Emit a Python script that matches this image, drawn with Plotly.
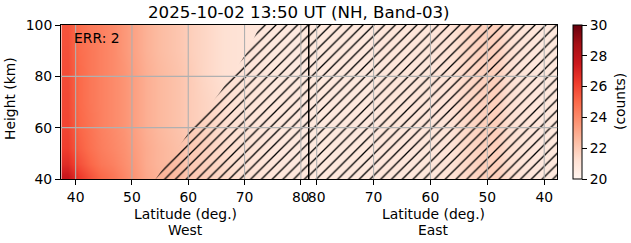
import plotly.graph_objects as go

# ---------------- data ----------------
heights = [41, 46, 52, 60, 70, 80, 90, 99]  # km (row centres)

west_lat = [38.5, 40.5, 42.5, 44.5, 46.5, 48.5, 50.5, 52.5, 54.5, 56.5, 58.5,
            60.5, 62.5, 64.5, 66.5, 68.5, 70.5, 72.5, 74.5, 76.5, 78.5, 80.5]
# one list per latitude column, bottom -> top
west_cols = [
    [27.6, 26.8, 26.2, 26.0, 25.9, 25.8, 25.7, 25.6],
    [26.3, 25.7, 25.3, 25.1, 25.0, 25.0, 24.9, 24.9],
    [25.6, 25.1, 24.8, 24.7, 24.6, 24.6, 24.6, 24.5],
    [25.0, 24.6, 24.4, 24.3, 24.3, 24.3, 24.3, 24.3],
    [24.6, 24.3, 24.1, 24.0, 24.0, 24.0, 24.0, 24.0],
    [24.1, 23.9, 23.8, 23.7, 23.7, 23.7, 23.6, 23.6],
    [23.6, 23.5, 23.4, 23.3, 23.3, 23.3, 23.2, 23.2],
    [23.1, 23.0, 23.0, 22.9, 22.9, 22.9, 22.8, 22.8],
    [22.8, 22.7, 22.7, 22.6, 22.6, 22.6, 22.5, 22.5],
    [22.6, 22.5, 22.5, 22.4, 22.4, 22.4, 22.3, 22.3],
    [22.4, 22.3, 22.3, 22.2, 22.2, 22.2, 22.1, 22.1],
    [22.1, 22.0, 22.0, 21.9, 21.9, 21.9, 21.8, 21.8],
    [21.9, 21.8, 21.8, 21.7, 21.7, 21.6, 21.6, 21.6],
    [21.7, 21.6, 21.6, 21.5, 21.5, 21.4, 21.4, 21.4],
    [21.5, 21.4, 21.4, 21.3, 21.3, 21.2, 21.2, 21.2],
    [21.3, 21.2, 21.2, 21.2, 21.1, 21.1, 21.1, 21.1],
    [21.2, 21.1, 21.1, 21.0, 21.0, 21.0, 21.0, 21.0],
    [21.1, 21.0, 21.0, 20.9, 20.9, 20.9, 20.9, 20.9],
    [21.0, 20.9, 20.9, 20.9, 20.8, 20.8, 20.8, 20.8],
    [20.9, 20.9, 20.8, 20.8, 20.8, 20.8, 20.8, 20.8],
    [20.9, 20.8, 20.8, 20.8, 20.8, 20.7, 20.7, 20.7],
    [20.8, 20.8, 20.7, 20.7, 20.7, 20.7, 20.7, 20.7],
]

east_lat = [80.5, 78.5, 76.5, 74.5, 72.5, 70.5, 68.5, 66.5, 64.5, 62.5, 60.5,
            58.5, 56.5, 54.5, 52.5, 50.5, 48.5, 46.5, 44.5, 42.5, 40.5, 38.5]
east_vals = [20.8, 20.8, 20.8, 20.8, 20.8, 20.8, 20.9, 20.9, 20.9, 20.9, 20.9,
             21.0, 21.1, 21.4, 21.6, 21.8, 21.8, 21.3, 21.0, 20.9, 20.8, 20.8]

# no-data (hatched) region boundary in the West panel
mask_lat = [54.2, 60.4, 65.7, 70.5, 72.8, 73.2, 82.0, 82.0]
mask_h = [40.0, 59.0, 74.0, 89.6, 100.0, 101.0, 101.0, 39.0]
# East panel is fully masked
mask_east_lat = [82.0, 37.0, 37.0, 82.0]
mask_east_h = [39.0, 39.0, 101.0, 101.0]

x_ticks = [40, 50, 60, 70, 80]
y_ticks = [40, 60, 80, 100]
cbar_ticks = [20, 22, 24, 26, 28, 30]
west_range = [37.4, 81.5]
east_range = [81.3, 37.7]
height_range = [40, 100]

reds = [[0.0, 'rgb(255,245,240)'], [0.125, 'rgb(254,224,210)'],
        [0.25, 'rgb(252,187,161)'], [0.375, 'rgb(252,146,114)'],
        [0.5, 'rgb(251,106,74)'], [0.625, 'rgb(239,59,44)'],
        [0.75, 'rgb(203,24,29)'], [0.875, 'rgb(165,15,21)'],
        [1.0, 'rgb(103,0,13)']]

# ---------------- figure ----------------
W, H = 631, 243
def px(x):
    return x / W
def py(y):
    return 1 - y / H

FONT = 'DejaVu Sans'
z_west = [[col[i] for col in west_cols] for i in range(len(heights))]
z_east = [east_vals for _ in heights]

fig = go.Figure()
fig.add_trace(go.Heatmap(x=west_lat, y=heights, z=z_west, zmin=20, zmax=30,
                         colorscale=reds, zsmooth='best', xaxis='x', yaxis='y',
                         showscale=True,
                         colorbar=dict(x=px(572.7), xanchor='left', y=py(102), yanchor='middle',
                                       len=154 / H, thickness=9, xpad=0, ypad=0,
                                       outlinewidth=1, outlinecolor='black',
                                       tickvals=cbar_ticks, ticks='outside', ticklen=5,
                                       tickcolor='black', tickfont=dict(size=13.9, color='black'))))
fig.add_trace(go.Heatmap(x=east_lat, y=heights, z=z_east, zmin=20, zmax=30,
                         colorscale=reds, zsmooth='best', xaxis='x2', yaxis='y2',
                         showscale=False))

pat = dict(shape='/', size=7.6, solidity=0.17, fgcolor='black', fgopacity=1,
           bgcolor='rgba(0,0,0,0)')
fig.add_trace(go.Scatter(x=mask_lat, y=mask_h, fill='toself', mode='none',
                         fillcolor='rgba(0,0,0,0)', fillpattern=pat,
                         xaxis='x', yaxis='y', hoverinfo='skip', showlegend=False))
fig.add_trace(go.Scatter(x=mask_east_lat, y=mask_east_h, fill='toself', mode='none',
                         fillcolor='rgba(0,0,0,0)', fillpattern=pat,
                         xaxis='x2', yaxis='y2', hoverinfo='skip', showlegend=False))

xdom_w = [px(61), px(309.3)]
xdom_e = [px(309.3), px(557.3)]
ydom = [py(179), py(25)]
axis_common = dict(showline=True, linecolor='black', linewidth=1, mirror=True,
                   showgrid=False, zeroline=False, ticks='outside', ticklen=5,
                   tickcolor='black', tickwidth=1,
                   tickfont=dict(size=13.9, color='black'))

fig.update_layout(
    width=W, height=H, margin=dict(l=0, r=0, t=0, b=0, autoexpand=False),
    paper_bgcolor='white', plot_bgcolor='white',
    font=dict(family=FONT, color='black'),
    showlegend=False,
    xaxis=dict(domain=xdom_w, range=west_range, tickvals=x_ticks, anchor='y', **axis_common),
    xaxis2=dict(domain=xdom_e, range=east_range, tickvals=x_ticks, anchor='y2', **axis_common),
    yaxis=dict(domain=ydom, range=height_range, tickvals=y_ticks, anchor='x', **axis_common),
    yaxis2=dict(domain=ydom, range=height_range, anchor='x2', showticklabels=False,
                showline=True, linecolor='black', linewidth=1, mirror=True,
                showgrid=False, zeroline=False, ticks=''),
)

# grid lines above the image (as in the reference)
grid = dict(color='#b0b0b0', width=1.1)
shapes = []
for t in x_ticks:
    shapes.append(dict(type='line', xref='x', yref='y domain', x0=t, x1=t, y0=0, y1=1,
                       line=grid, layer='above'))
    shapes.append(dict(type='line', xref='x2', yref='y2 domain', x0=t, x1=t, y0=0, y1=1,
                       line=grid, layer='above'))
for t in y_ticks[1:-1]:
    shapes.append(dict(type='line', xref='x domain', yref='y', x0=0, x1=1, y0=t, y1=t,
                       line=grid, layer='above'))
    shapes.append(dict(type='line', xref='x2 domain', yref='y2', x0=0, x1=1, y0=t, y1=t,
                       line=grid, layer='above'))
fig.update_layout(shapes=shapes)

ann = [
    dict(text='2025-10-02 13:50 UT (NH, Band-03)', x=px(298.5), y=py(12), size=16.67),
    dict(text='Latitude (deg.)', x=px(185.2), y=py(214), size=13.9),
    dict(text='West', x=px(185.2), y=py(230), size=13.9),
    dict(text='Latitude (deg.)', x=px(433.3), y=py(214), size=13.9),
    dict(text='East', x=px(433.3), y=py(230), size=13.9),
]
for a in ann:
    fig.add_annotation(text=a['text'], x=a['x'], y=a['y'], xref='paper', yref='paper',
                       xanchor='center', yanchor='middle', showarrow=False,
                       font=dict(size=a['size'], color='black', family=FONT))
fig.add_annotation(text='ERR: 2', x=px(71.7), y=py(38), xref='paper', yref='paper',
                   xanchor='left', yanchor='middle', showarrow=False,
                   font=dict(size=13.9, color='black', family=FONT))
fig.add_annotation(text='Height (km)', x=px(10), y=py(99), xref='paper', yref='paper',
                   xanchor='center', yanchor='middle', textangle=-90, showarrow=False,
                   font=dict(size=13.9, color='black', family=FONT))
fig.add_annotation(text='(counts)', x=px(620), y=py(102), xref='paper', yref='paper',
                   xanchor='center', yanchor='middle', textangle=-90, showarrow=False,
                   font=dict(size=13.9, color='black', family=FONT))

fig.write_html('out.html')
